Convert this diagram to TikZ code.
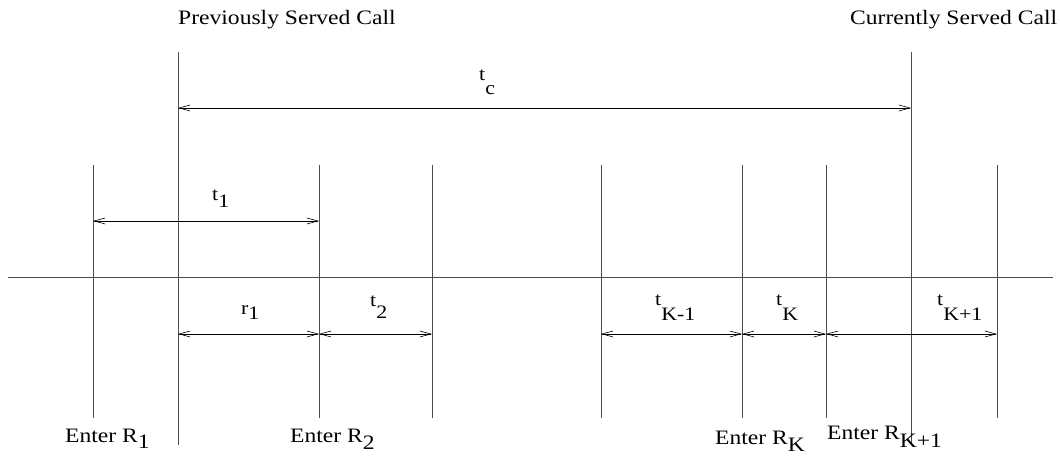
\documentclass[tikz,border=0pt]{standalone}
\usepackage{fontspec}
\setmainfont{Liberation Serif}[FakeStretch=1.15]
\usepackage{tikz}
\usetikzlibrary{arrows.meta, positioning}

% lowered index, set at full size as in the drawing
\newcommand{\lowidx}[2]{\raisebox{-#1}{#2}}

\begin{document}
\begin{tikzpicture}[
        x=1pt, y=1pt,
        tick/.style={draw=black!70, line width=1pt},
        axis/.style={draw=black!70, line width=1pt},
        dim/.style={{Straight Barb[length=11pt,width=6pt,line width=0.6pt]}-{Straight Barb[length=11pt,width=6pt,line width=0.6pt]},
                    line width=0.9pt, color=black},
        lbl/.style={anchor=base west, inner sep=0pt, font=\fontsize{19}{22}\selectfont},
        note/.style={anchor=base west, inner sep=0pt, font=\fontsize{20.5}{24}\selectfont}
      ]
      \useasboundingbox (0,0) rectangle (1060,457);

      % time axis
      \coordinate (axl) at (8,179);
      \coordinate (axr) at (1053,179);
      \draw[axis] (axl) -- (axr);

      % the two served calls
      \coordinate (prev)   at (178,405);
      \coordinate (prev-b) at (178,12);
      \coordinate (cur)    at (911,405);
      \coordinate (cur-b)  at (911,12);
      \draw[tick] (prev) -- (prev-b);
      \draw[tick] (cur) -- (cur-b);

      % arrival instants
      \foreach \n/\x in {e1/93, e2/319, m3/432, m4/601, ek/742, ek1/826, m9/997} {
        \coordinate (\n) at (\x,292);
        \coordinate (\n-b) at (\x,39);
        \draw[tick] (\n) -- (\n-b);
      }

      % heights of the measures
      \coordinate (rowc) at (0,349);
      \coordinate (rowa) at (0,236);
      \coordinate (rowb) at (0,123);

      \draw[dim] (prev |- rowc) -- (cur |- rowc);
      \draw[dim] (e1 |- rowa) -- (e2 |- rowa);
      \draw[dim] (prev |- rowb) -- (e2 |- rowb);
      \draw[dim] (e2 |- rowb) -- (m3 |- rowb);
      \draw[dim] (m4 |- rowb) -- (ek |- rowb);
      \draw[dim] (ek |- rowb) -- (ek1 |- rowb);
      \draw[dim] (ek1 |- rowb) -- (m9 |- rowb);

      \node[lbl] (ltc)  at (479,376) {t\lowidx{14pt}{c}};
      \node[lbl] (lt1)  at (212,256) {t\lowidx{7pt}{1}};
      \node[lbl] (lr1)  at (241,142) {r\lowidx{5pt}{1}};
      \node[lbl] (lt2)  at (370,150) {t\lowidx{12pt}{2}};
      \node[lbl] (ltkm) at (655,151) {t\lowidx{15pt}{K-1}};
      \node[lbl] (ltk)  at (776,151) {t\lowidx{15pt}{K}};
      \node[lbl] (ltkp) at (937,151) {t\lowidx{15pt}{K+1}};

      \node[note] (lprev) at (178,432) {Previously Served Call};
      \node[note] (lcur)  at (850,432) {Currently Served Call};

      \node[note] (en1)  at (65,14)  {Enter R\lowidx{6pt}{1}};
      \node[note] (en2)  at (290,14) {Enter R\lowidx{7pt}{2}};
      \node[note] (enk)  at (715,12) {Enter R\lowidx{7pt}{K}};
      \node[note] (enkp) at (827,17) {Enter R\lowidx{8pt}{K+1}};
    \end{tikzpicture}
\end{document}
